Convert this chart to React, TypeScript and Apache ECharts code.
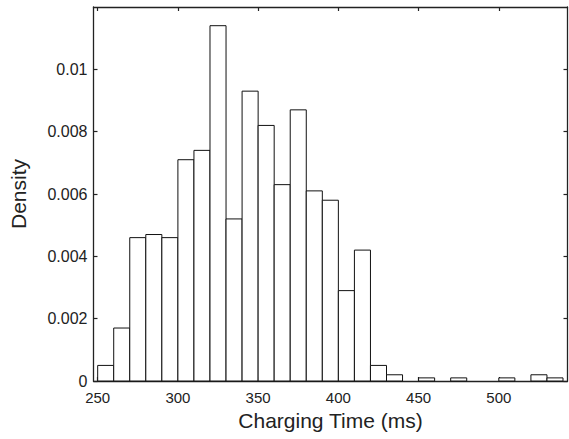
import React, { useEffect, useRef } from "react";
import * as echarts from "echarts";

const binStarts = [250, 260, 270, 280, 290, 300, 310, 320, 330, 340, 350, 360, 370, 380, 390, 400, 410, 420, 430, 440, 450, 460, 470, 480, 490, 500, 510, 520, 530];
const densities = [0.0005, 0.0017, 0.0046, 0.0047, 0.0046, 0.0071, 0.0074, 0.0114, 0.0052, 0.0093, 0.0082, 0.0063, 0.0087, 0.0061, 0.0058, 0.0029, 0.0042, 0.0005, 0.0002, 0, 0.0001, 0, 0.0001, 0, 0, 0.0001, 0, 0.0002, 0.0001];
const binWidth = 10;
const xTicks = [250, 300, 350, 400, 450, 500];
const yTicks = [0, 0.002, 0.004, 0.006, 0.008, 0.01];
const xMin = 247.4;
const xMax = 542.8;
const yMax = 0.012;

const FONT = "Liberation Sans, Arial, sans-serif";

export default function App() {
  const ref = useRef<HTMLDivElement>(null);
  useEffect(() => {
    if (!ref.current) return;
    const chart = echarts.init(ref.current, null, { renderer: "svg" });
    const data = binStarts
      .map((s, i) => [s, s + binWidth, densities[i]])
      .filter((d) => d[2] > 0);
    const axisLine = { show: true, onZero: false, lineStyle: { color: "#222", width: 1.3 } };
    const tickStyle = { color: "#222", width: 1.2 };
    chart.setOption({
      animation: false,
      backgroundColor: "#fff",
      grid: { left: 93.5, right: 1.5, top: 7, bottom: 58, containLabel: false, outerBoundsMode: "none" },
      xAxis: [
        {
          type: "value",
          position: "bottom",
          min: xMin,
          max: xMax,
          splitLine: { show: false },
          axisLine,
          axisTick: { show: true, inside: true, length: 4, customValues: xTicks, lineStyle: tickStyle },
          axisLabel: { customValues: xTicks, fontFamily: FONT, fontSize: 15, color: "#222", margin: 9 },
          name: "Charging Time (ms)",
          nameLocation: "middle",
          nameGap: 22,
          nameTextStyle: { fontFamily: FONT, fontSize: 21, color: "#222" },
        },
        {
          type: "value",
          position: "top",
          min: xMin,
          max: xMax,
          splitLine: { show: false },
          axisLine,
          axisTick: { show: true, inside: true, length: 4, customValues: xTicks, lineStyle: tickStyle },
          axisLabel: { show: false },
        },
      ],
      yAxis: [
        {
          type: "value",
          position: "left",
          min: 0,
          max: yMax,
          splitLine: { show: false },
          axisLine,
          axisTick: { show: true, inside: true, length: 4, customValues: yTicks, lineStyle: tickStyle },
          axisLabel: { customValues: yTicks, fontFamily: FONT, fontSize: 16, color: "#222", margin: 6, formatter: (v: number) => String(Number(v.toFixed(4))) },
          name: "Density",
          nameLocation: "middle",
          nameGap: 65,
          nameTextStyle: { fontFamily: FONT, fontSize: 21, color: "#222" },
        },
        {
          type: "value",
          position: "right",
          min: 0,
          max: yMax,
          splitLine: { show: false },
          axisLine,
          axisTick: { show: true, inside: true, length: 4, customValues: yTicks, lineStyle: tickStyle },
          axisLabel: { show: false },
        },
      ],
      series: [
        {
          type: "custom",
          xAxisIndex: 0,
          yAxisIndex: 0,
          data,
          renderItem: (params: any, api: any) => {
            const p0 = api.coord([api.value(0), api.value(2)]);
            const p1 = api.coord([api.value(1), 0]);
            return {
              type: "rect",
              shape: { x: p0[0], y: p0[1], width: p1[0] - p0[0], height: p1[1] - p0[1] },
              style: { fill: "#fff", stroke: "#111", lineWidth: 1 },
            };
          },
        },
      ],
    });
    return () => chart.dispose();
  }, []);
  return <div ref={ref} style={{ width: 569, height: 439, position: "absolute", left: 0, top: 0 }} />;
}
